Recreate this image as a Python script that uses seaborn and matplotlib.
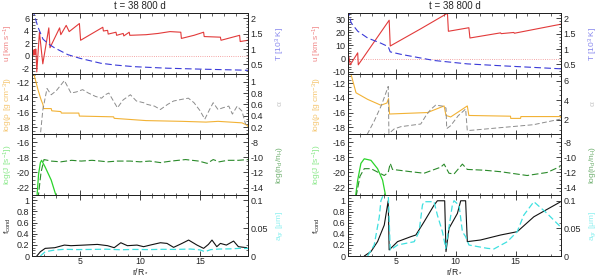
import numpy as np
import pandas as pd
import matplotlib
matplotlib.use("Agg")
import matplotlib.pyplot as plt
import seaborn as sns
from matplotlib.ticker import MultipleLocator, FormatStrFormatter

sns.set_style("ticks")
plt.rcParams['font.family'] = ['Liberation Sans', 'DejaVu Sans']
plt.rcParams['mathtext.fontset'] = 'custom'
plt.rcParams['mathtext.rm'] = 'Liberation Sans'
plt.rcParams['mathtext.it'] = 'Liberation Sans'

TITLE = "t = 38 800 d"

# ---------------- LEFT COLUMN DATA ----------------
rL_u = [1.05, 1.1, 1.13, 1.16, 1.19, 1.22, 1.25, 1.28, 1.31, 1.34, 1.4, 1.62, 1.9, 2.4, 2.5,
        3.3, 3.4, 3.85, 4.1, 4.95, 5.05, 6.9, 6.95, 7.3, 7.35, 8.0, 8.05, 8.6, 8.65, 9.1, 9.15,
        10.5, 11.5, 12.5, 13.4, 13.45, 14.5, 15.3, 15.35, 16.7, 16.75, 18.3, 18.35, 19.0]
uL = [0.1, 0.2, 0.9, 0.1, 1.0, 0.2, 0.8, 0.3, 1.1, 0.4, -2.6, 3.8, -1.3, 4.5, 1.3,
      4.5, 3.4, 4.9, 3.9, 5.2, 2.5, 4.6, 4.0, 4.1, 3.5, 3.8, 3.3, 3.6, 3.2, 3.8, 3.3,
      3.4, 3.6, 3.9, 3.8, 2.8, 3.3, 3.8, 3.1, 3.0, 2.5, 3.3, 2.3, 2.5]
rL_T = [1.0, 1.14, 1.5, 1.92, 2.4, 2.88, 3.98, 5.0, 6.74, 8.0, 9.49, 12.25, 15.0, 18.3, 19.0]
TL = [2.3, 2.17, 1.71, 1.32, 1.16, 1.04, 0.82, 0.70, 0.54, 0.48, 0.43, 0.38, 0.35, 0.32, 0.31]

rL_rho = [1.05, 1.14, 1.5, 1.75, 1.92, 1.95, 2.6, 2.65, 3.4, 3.45, 4.9, 4.95, 7.8, 7.85,
          10.5, 13.5, 15.5, 16.5, 18.5, 18.9, 19.0]
rhoL = [-10.2, -10.8, -13.0, -14.3, -15.0, -15.5, -15.5, -15.8, -15.9, -16.1, -16.1, -16.5,
        -16.6, -16.8, -17.1, -17.2, -17.3, -17.2, -17.4, -17.7, -17.9]
rL_alpha = [1.72, 1.9, 2.25, 2.6, 3.02, 3.7, 4.25, 4.7, 5.22, 5.7, 6.3, 6.8, 7.1, 7.4, 8.12,
            8.6, 9.2, 9.7, 10.3, 10.6, 11.2, 11.7, 12.3, 12.8, 13.5, 14.03, 14.5, 15.0, 15.4,
            15.8, 16.1, 16.5, 16.9, 17.4, 17.7, 18.1, 18.5, 18.8]
alphaL = [0.11, 0.5, 0.88, 0.77, 0.84, 1.02, 0.80, 0.82, 0.86, 0.80, 0.74, 0.71, 0.77, 0.80,
          0.54, 0.68, 0.77, 0.66, 0.63, 0.60, 0.57, 0.51, 0.60, 0.66, 0.69, 0.71, 0.63, 0.49,
          0.34, 0.51, 0.63, 0.51, 0.54, 0.57, 0.43, 0.57, 0.48, 0.25]

rL_J = [1.4, 1.55, 1.7, 1.8, 2.1, 2.6, 3.05]
JL = [-23.5, -20.2, -18.7, -18.4, -19.3, -21.0, -23.3]
rL_nd = [1.5, 1.75, 2.0, 2.6, 3.4, 4.3, 5.1, 6.0, 6.7, 7.3, 8.1, 9.2, 10.0, 10.8, 11.7,
         12.6, 13.8, 14.9, 15.6, 16.1, 16.6, 17.3, 18.2, 19.0]
ndL = [-15.5, -12.0, -10.3, -10.5, -10.6, -10.4, -10.5, -10.4, -10.5, -10.6, -10.5, -10.5,
       -10.6, -10.5, -10.7, -10.5, -10.3, -10.5, -10.8, -10.3, -10.6, -10.4, -10.4, -10.3]

rL_f = [1.4, 1.7, 2.1, 2.9, 3.7, 4.25, 5.35, 6.45, 7.3, 7.85, 8.4, 8.95, 9.75, 10.3, 10.85,
        11.7, 12.25, 12.8, 13.5, 14.05, 14.75, 15.3, 15.7, 16.0, 16.4, 16.7, 17.2, 17.8, 18.2, 18.9]
fL = [0.0, 0.077, 0.137, 0.149, 0.196, 0.185, 0.196, 0.208, 0.185, 0.149, 0.238, 0.185,
      0.196, 0.167, 0.196, 0.238, 0.226, 0.155, 0.226, 0.286, 0.196, 0.137, 0.208, 0.286,
      0.167, 0.226, 0.196, 0.268, 0.167, 0.149]
rL_a = [1.7, 2.1, 2.9, 3.7, 4.8, 6.0, 7.2, 8.4, 9.5, 10.7, 11.9, 13.0, 14.2, 15.0, 15.4,
        15.9, 16.6, 17.5, 18.3, 19.0]
aL = [0.0, 0.0077, 0.0107, 0.0120, 0.0115, 0.0118, 0.0122, 0.0112, 0.0118, 0.0115, 0.0120,
      0.0118, 0.0125, 0.0110, 0.0077, 0.0115, 0.0125, 0.0128, 0.0137, 0.0135]

# ---------------- RIGHT COLUMN DATA ----------------
rR_u = [1.0, 1.06, 1.19, 1.81, 1.86, 4.44, 4.53, 7.08, 9.31, 9.39, 11.1, 11.19, 13.75, 13.8,
        14.86, 14.9, 18.8]
uR = [3.0, 1.8, -4.7, 4.4, -4.7, 29.2, 9.6, 22.7, 34.5, 20.8, 23.5, 15.7, 19.6, 19.0,
      19.9, 19.3, 26.2]
rR_T = [1.0, 1.06, 1.25, 1.81, 2.64, 3.75, 4.36, 4.53, 5.42, 8.19, 10.97, 13.75, 18.8]
TR = [2.3, 2.2, 1.86, 1.58, 1.36, 1.19, 1.08, 0.91, 0.83, 0.63, 0.52, 0.46, 0.36]

rR_rho = [1.0, 1.25, 1.67, 2.64, 3.75, 4.25, 4.39, 4.47, 7.64, 9.03, 9.19, 9.58, 10.14,
          10.97, 11.1, 14.58, 14.6, 15.42, 15.45, 18.75, 18.8]
rhoR = [-10.3, -10.75, -13.3, -14.2, -15.0, -14.7, -14.1, -16.2, -16.0, -15.1, -16.4, -16.6,
        -16.0, -15.1, -16.4, -16.5, -16.8, -16.8, -16.55, -16.55, -16.7]
rR_alpha = [2.6, 3.2, 3.8, 4.36, 4.42, 4.86, 5.42, 7.08, 7.5, 7.92, 8.33, 8.89, 9.19, 9.25,
            9.58, 10.2, 10.83, 10.97, 11.5, 13.75, 16.5, 18.75]
alphaR = [0.5, 1.9, 3.5, 5.4, 0.6, 1.07, 1.3, 1.57, 2.4, 3.07, 3.5, 3.4, 3.2, 1.1, 1.4, 2.4,
          3.1, 0.9, 0.95, 1.2, 1.5, 2.07]

rR_J = [1.62, 1.81, 2.08, 2.36, 2.92, 3.47, 3.89, 4.17]
JR = [-23.3, -21.0, -18.8, -18.2, -18.4, -19.5, -21.0, -23.3]
rR_nd = [1.67, 2.0, 2.36, 2.92, 4.03, 4.36, 4.53, 4.72, 6.25, 7.36, 8.75, 9.03, 9.44, 9.86,
         10.56, 10.97, 12.36, 13.75, 15.97, 17.64, 18.75]
ndR = [-15.2, -12.5, -11.5, -11.5, -12.4, -12.0, -10.8, -11.6, -11.9, -12.1, -11.3, -10.9,
       -12.1, -12.2, -10.9, -11.6, -11.7, -11.9, -12.4, -12.0, -11.2]

rR_f = [2.36, 2.92, 3.47, 4.03, 4.36, 4.44, 5.14, 6.25, 6.67, 7.36, 8.19, 8.47, 9.08, 9.19,
        9.44, 10.14, 10.42, 10.83, 10.97, 12.08, 13.75, 15.14, 16.53, 18.75]
fR = [0.0, 0.08, 0.26, 0.56, 1.0, 0.11, 0.26, 0.35, 0.38, 0.62, 0.92, 1.0, 1.0, 0.08,
      0.5, 0.77, 1.0, 1.0, 0.26, 0.29, 0.38, 0.44, 0.71, 0.98]
rR_a = [2.64, 3.19, 3.61, 3.75, 4.03, 4.36, 4.53, 5.14, 6.53, 6.94, 7.22, 7.36, 8.19, 8.47,
        8.89, 9.17, 9.72, 9.86, 10.28, 10.56, 10.83, 11.11, 12.64, 13.19, 14.31, 15.14,
        15.69, 16.53, 17.64, 18.75]
aR = [0.0, 0.02, 0.07, 0.1, 0.115, 0.115, 0.0108, 0.0199, 0.0259, 0.044, 0.0922, 0.0983,
      0.0983, 0.074, 0.044, 0.0139, 0.0922, 0.1, 0.092, 0.044, 0.035, 0.0199, 0.0139, 0.0127,
      0.0259, 0.044, 0.074, 0.0983, 0.077, 0.053]

# ---------------- STYLE ----------------
C_U, C_T = "#e23a3a", "#3a3ad8"
C_RHO, C_AL = "#f2b235", "#8c8c8c"
C_J, C_ND = "#2ad42a", "#2a8a2a"
C_F, C_A = "#111111", "#3fe0e0"
L_U, L_T = "#f08888", "#8888ee"
L_RHO, L_AL = "#f5c670", "#c8c8c8"
L_J, L_ND = "#88e888", "#70b070"
L_F, L_A = "#333333", "#90f0f0"

FS = 6.5
LFS = 6.0
W, H = 600.0, 276.0
cols = [(32, 248, (1.0, 19.0), -0.11, 1.148), (348, 561, (1.0, 18.8), -0.145, 1.15)]
rows_px = [13, 73.75, 134.5, 195.25, 256]

fig = plt.figure(figsize=(6, 2.76), dpi=100)


def style_axis(ax, left=True, right=False):
    ax.tick_params(which='both', direction='in', top=True, bottom=True,
                   left=left, right=right, labelsize=FS, pad=2,
                   labelleft=left, labelright=right)
    ax.tick_params(which='major', length=3.5, width=0.6)
    ax.tick_params(which='minor', length=1.8, width=0.5)
    for s in ax.spines.values():
        s.set_linewidth(0.7)
        s.set_color("#222222")


def line(ax, x, y, color, ls='-', lw=0.8):
    df = pd.DataFrame({"r": x, "v": y})
    sns.lineplot(data=df, x="r", y="v", ax=ax, color=color, lw=lw,
                 linestyle=ls, sort=False, estimator=None)
    ax.set_xlabel("")
    ax.set_ylabel("")


col_data = [
    dict(ru=rL_u, u=uL, rT=rL_T, T=TL, rrho=rL_rho, rho=rhoL, ral=rL_alpha, al=alphaL,
         rJ=rL_J, J=JL, rnd=rL_nd, nd=ndL, rf=rL_f, f=fL, ra=rL_a, a=aL,
         ulim=(-2.9, 6.9), uticks=2, uminor=0.5, Tlim=(0.2, 2.17),
         rholim=(-18.95, -10.87), allim=(0.07, 1.14), alticks=0.2, alminor=0.05,
         flim=(0, 1.09), alim=(0, 0.109)),
    dict(ru=rR_u, u=uR, rT=rR_T, T=TR, rrho=rR_rho, rho=rhoR, ral=rR_alpha, al=alphaR,
         rJ=rR_J, J=JR, rnd=rR_nd, nd=ndR, rf=rR_f, f=fR, ra=rR_a, a=aR,
         ulim=(-11.5, 34.7), uticks=10, uminor=2, Tlim=(0.2, 2.17),
         rholim=(-19.0, -10.7), allim=(0.5, 6.7), alticks=2, alminor=0.5,
         flim=(0, 1.1), alim=(0, 0.11)),
]

for (x0, x1, xlim, lx, rx), d in zip(cols, col_data):
    axes = []
    for i in range(4):
        top, bot = rows_px[i], rows_px[i + 1]
        ax = fig.add_axes([x0 / W, 1 - bot / H, (x1 - x0) / W, (bot - top) / H])
        tw = ax.twinx()
        axes.append((ax, tw))
        ax.set_xlim(*xlim)
        ax.xaxis.set_major_locator(MultipleLocator(5))
        ax.xaxis.set_minor_locator(MultipleLocator(1))
        style_axis(ax, left=True, right=False)
        style_axis(tw, left=False, right=True)
        tw.tick_params(which='both', top=False, bottom=False)
        if i < 3:
            ax.tick_params(labelbottom=False)
        else:
            ax.tick_params(axis='x', pad=1.0, labelsize=6.3)
        ax.yaxis.set_major_formatter(FormatStrFormatter('%g'))
        tw.yaxis.set_major_formatter(FormatStrFormatter('%g'))

    # panel 1: u and T
    ax, tw = axes[0]
    ax.axhline(0, color=L_U, lw=0.6, ls=':')
    line(ax, d['ru'], d['u'], C_U)
    line(tw, d['rT'], d['T'], C_T, ls=(0, (6, 3)))
    ax.set_ylim(*d['ulim']); tw.set_ylim(*d['Tlim'])
    ax.yaxis.set_major_locator(MultipleLocator(d['uticks']))
    ax.yaxis.set_minor_locator(MultipleLocator(d['uminor']))
    tw.yaxis.set_major_locator(MultipleLocator(0.5))
    tw.yaxis.set_minor_locator(MultipleLocator(0.1))
    ax.set_ylabel(r"u [km s$^{-1}$]", color=L_U, fontsize=LFS)
    tw.set_ylabel(r"T [10$^3$ K]", color=L_T, fontsize=LFS)

    # panel 2: rho and alpha
    ax, tw = axes[1]
    line(ax, d['rrho'], d['rho'], C_RHO)
    line(tw, d['ral'], d['al'], C_AL, ls=(0, (5, 2.5)), lw=0.7)
    ax.set_ylim(*d['rholim']); tw.set_ylim(*d['allim'])
    ax.yaxis.set_major_locator(MultipleLocator(2))
    ax.yaxis.set_minor_locator(MultipleLocator(0.5))
    tw.yaxis.set_major_locator(MultipleLocator(d['alticks']))
    tw.yaxis.set_minor_locator(MultipleLocator(d['alminor']))
    ax.set_ylabel(r"log($\rho$ [g cm$^{-3}$])", color=L_RHO, fontsize=LFS)
    tw.set_ylabel(r"$\alpha$", color=L_AL, fontsize=LFS)

    # panel 3: J and nd/nH
    ax, tw = axes[2]
    line(ax, d['rJ'], d['J'], C_J, lw=0.9)
    line(tw, d['rnd'], d['nd'], C_ND, ls=(0, (6, 2.5)))
    ax.set_ylim(-23, -15); tw.set_ylim(-15, -7)
    ax.yaxis.set_major_locator(MultipleLocator(2))
    ax.yaxis.set_minor_locator(MultipleLocator(0.5))
    tw.yaxis.set_major_locator(MultipleLocator(2))
    tw.yaxis.set_minor_locator(MultipleLocator(0.5))
    ax.set_ylabel(r"log(J [s$^{-1}$])", color=L_J, fontsize=LFS)
    tw.set_ylabel(r"log(n$_\mathrm{d}$/n$_\mathrm{H}$)", color=L_ND, fontsize=LFS)

    # panel 4: f_cond and a_gr
    ax, tw = axes[3]
    line(ax, d['rf'], d['f'], C_F)
    line(tw, d['ra'], d['a'], C_A, ls=(0, (5, 2.5)), lw=0.9)
    ax.set_ylim(*d['flim']); tw.set_ylim(*d['alim'])
    ax.yaxis.set_major_locator(MultipleLocator(0.2))
    ax.yaxis.set_minor_locator(MultipleLocator(0.05))
    tw.yaxis.set_major_locator(MultipleLocator(0.05))
    tw.yaxis.set_minor_locator(MultipleLocator(0.01))
    ax.set_ylabel(r"f$_\mathrm{cond}$", color=L_F, fontsize=LFS)
    tw.set_ylabel(r"a$_\mathrm{gr}$ [$\mu$m]", color=L_A, fontsize=LFS)

    for ax, tw in axes:
        for a_, xc in ((ax, lx), (tw, rx)):
            lab = a_.yaxis.label
            lab.set_rotation(90)
            lab.set_va('center')
            lab.set_ha('center')
            lab.set_rotation_mode('anchor')
            a_.yaxis.set_label_coords(xc, 0.5)

    xc = (x0 + x1) / 2 / W
    fig.text(xc, 1 - 6 / H, TITLE, ha='center', va='center', fontsize=FS + 0.5)
    fig.text(xc, 0.3 / H, r"r/R$_*$", ha='center', va='bottom', fontsize=6.2)

fig.savefig("out.png", dpi=100)
